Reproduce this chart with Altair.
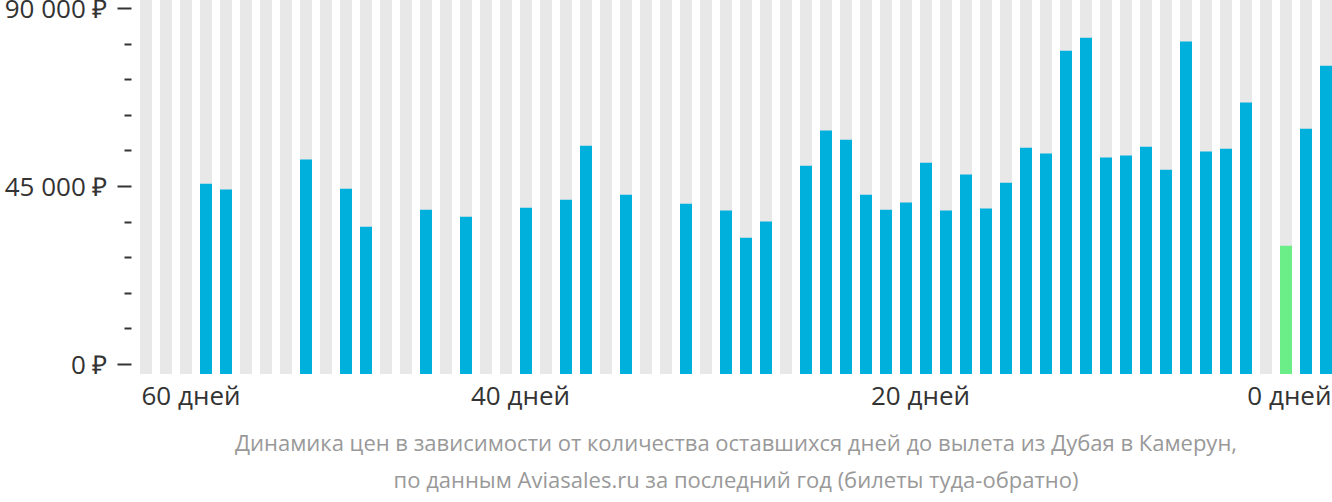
import altair as alt
import pandas as pd

# days before departure (left = 59, right = 0)
days = list(range(59, -1, -1))
prices = [None, None, None, 45600, 44100, None, None, None, 51700, None,
          44300, 34700, None, None, 39000, None, 37200, None, None, 39500,
          None, 41500, 55200, None, 42800, None, None, 40500, None, 38800,
          31900, 36000, None, 50100, 59000, 56700, 42800, 39000, 40800, 50900,
          38800, 47900, 39300, 45800, 54700, 53200, 79200, 82500, 52200, 52700,
          54900, 49100, 81500, 53700, 54400, 66100, None, 29900, 59500, 75400]

x_ticks = [60, 40, 20, 0]
y_ticks = [0, 9000, 18000, 27000, 36000, 45000, 54000, 63000, 72000, 81000, 90000]
y_max = 90000

caption = ["Динамика цен в зависимости от количества оставшихся дней до вылета из Дубая в Камерун,",
           "по данным Aviasales.ru за последний год (билеты туда-обратно)"]

df = pd.DataFrame({"day": days, "price": prices})
min_price = df["price"].min()

BLUE = "#00B0DC"
GREEN = "#6BEE87"
GRAY = "#E8E8E8"
TEXT = "#333333"

x_scale = alt.Scale(domain=[60, -0.6], nice=False, zero=False)
y_scale = alt.Scale(domain=[0, y_max], nice=False)

x_axis = alt.Axis(
    values=x_ticks, tickCount=len(x_ticks),
    labelExpr="datum.value + ' дней'",
    ticks=False, domain=False, grid=False, title=None,
    labelFont="Open Sans", labelFontSize=26, labelColor=TEXT,
    labelPadding=19, labelOverlap=False,
    labelFlush=13, labelFlushOffset=11,
    labelOffset={"condition": {"test": "datum.value == 60", "value": 32}, "value": 0},
)

y_axis = alt.Axis(
    values=y_ticks, tickCount=len(y_ticks),
    labelExpr="datum.value % 45000 == 0 ? replace(format(datum.value, ','), ',', ' ') + ' ₽' : ''",
    domain=False, grid=False, title=None, offset=-11,
    labelOverlap=False, labelBound=False,
    tickColor=TEXT, tickWidth=2,
    tickSize={"condition": {"test": "datum.value % 45000 == 0", "value": 14}, "value": 7},
    labelFont="Open Sans", labelFontSize=26, labelColor=TEXT, labelPadding=10,
    labelOffset=1.5,
)

base = alt.Chart(df).transform_calculate(day_end="datum.day - 0.6")

background = base.mark_bar(color=GRAY, yOffset=-8, y2Offset=10).encode(
    x=alt.X("day:Q", scale=x_scale, axis=x_axis),
    x2="day_end:Q",
    y=alt.Y("ymax:Q", scale=y_scale, axis=y_axis),
    y2=alt.datum(0),
).transform_calculate(ymax=str(y_max))

bars = base.transform_filter("isValid(datum.price)").mark_bar(y2Offset=10).encode(
    x=alt.X("day:Q", scale=x_scale),
    x2="day_end:Q",
    y=alt.Y("price:Q", scale=y_scale),
    y2=alt.datum(0),
    color=alt.condition(f"datum.price == {min_price}", alt.value(GREEN), alt.value(BLUE)),
)

chart = alt.layer(background, bars).properties(
    width=1212, height=356,
    padding={"left": 120, "top": 8, "right": 0, "bottom": 138},
    autosize=alt.AutoSizeParams(type="none"),
    title=alt.TitleParams(
        text=caption, orient="bottom", anchor="middle", frame="group",
        font="Open Sans", fontSize=22, fontWeight="normal", color="#999999",
        lineHeight=37, offset=25, dx=10,
    ),
).configure_view(stroke=None)

chart.save("out.html", embed_options={"renderer": "svg", "actions": False})
